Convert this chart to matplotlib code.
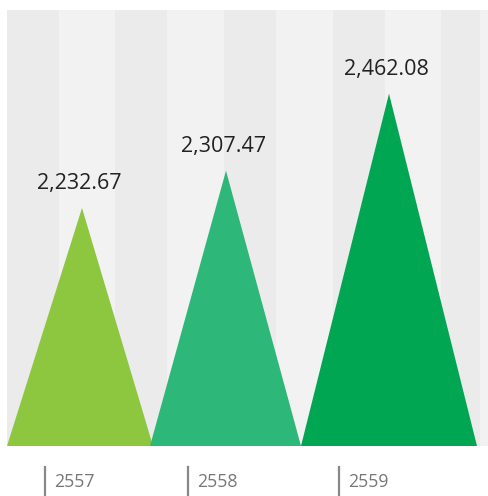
import matplotlib
matplotlib.use("Agg")
import matplotlib.pyplot as plt
from matplotlib.patches import Polygon

# data
years = ["2557", "2558", "2559"]
values = [2232.67, 2307.47, 2462.08]
colors = ["#8DC63F", "#2DB87A", "#00A651"]

# layout (axes pixel units, x from left edge of plot area)
centers = [75, 219, 382]
bases = [(0, 146), (143, 294), (294, 470)]
tick_x = [38, 181, 332]
stripe_edges = [-1, 52, 108, 160, 217, 269, 326, 378, 434, 473, 481]

plt.rcParams['font.family'] = ['Open Sans', 'DejaVu Sans']

fig = plt.figure(figsize=(4.88, 4.96), dpi=100)
ax = fig.add_axes([7 / 488, 50 / 496, 481 / 488, 436 / 496])
ax.set_xlim(0, 481)
ymin, ymax = 1755, 2630
ax.set_ylim(ymin, ymax)
ax.axis("off")

# striped background
for i in range(len(stripe_edges) - 1):
    c = "#EBEBEB" if i % 2 == 0 else "#F2F2F2"
    ax.axvspan(stripe_edges[i], stripe_edges[i + 1], color=c, lw=0, zorder=0)

for v, c, (l, r), cx in zip(values, colors, bases, centers):
    tri = Polygon([(l, ymin), (cx, v), (r, ymin)], closed=True,
                  facecolor=c, edgecolor="none", zorder=2)
    ax.add_patch(tri)
    ax.annotate("{:,.2f}".format(v), (cx, v), xytext=(-2, 10),
                textcoords="offset points", ha="center", va="bottom",
                fontsize=15.5, color="#222222", zorder=3)

# category labels with small vertical markers
for tx, yr in zip(tick_x, years):
    fx = (7 + tx) / 488
    fig.add_artist(plt.Line2D([fx, fx], [1 - 467 / 496, 1 - 495 / 496],
                              color="#888888", lw=1.6))
    fig.text(fx + 9 / 488, 1 - 482 / 496, yr, ha="left", va="center",
             fontsize=12.8, color="#777777")

fig.savefig("out.png", dpi=100, facecolor="white")
